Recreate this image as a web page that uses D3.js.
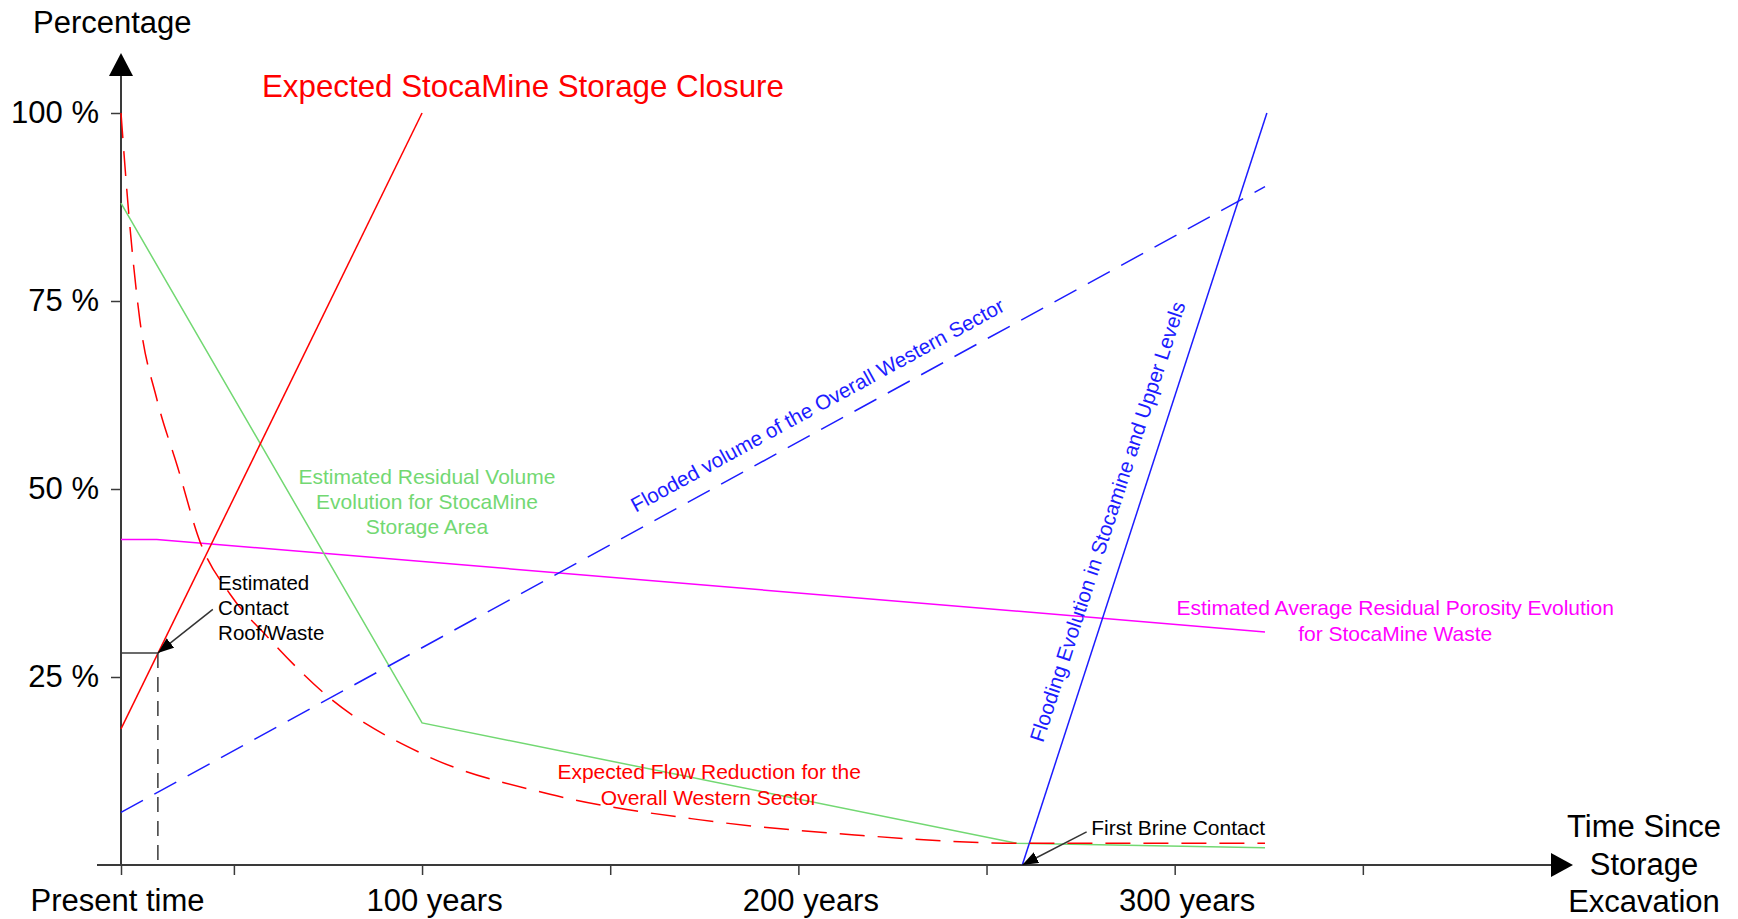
<!DOCTYPE html>
<html>
<head>
<meta charset="utf-8">
<script src="https://cdn.jsdelivr.net/npm/d3@7"></script>
<style>
  body { margin: 0; background: #fff; }
  svg { display: block; }
</style>
</head>
<body>
<svg id="chart" width="1738" height="919"></svg>
<script>
// x ticks: years since storage excavation
var yearTicks = [20, 50, 100, 150, 200, 250, 300, 350];
var yearLabels = ['Present time', '', '100 years', '', '200 years', '', '300 years', ''];

// y ticks
var pctTicks = [25, 50, 75, 100];
var pctLabels = ['25 %', '50 %', '75 %', '100 %'];

// Expected StocaMine storage closure (solid red)
var closureYears = [20, 100];
var closurePct = [18.1, 100];

// Expected flow reduction for the overall western sector (dashed red)
var flowYears = [20, 22, 25, 29.5, 35, 41, 49, 59, 75, 100, 134, 174, 215, 258, 324];
var flowPct = [100, 87, 72.5, 62, 53, 43, 36, 30.3, 22.4, 14.8, 9.4, 6, 4, 2.9, 2.9];

// Estimated residual volume evolution for StocaMine storage area (green)
var residualYears = [20, 100, 258, 324];
var residualPct = [88, 18.9, 2.9, 2.3];

// Estimated average residual porosity evolution (magenta)
var porosityYears = [20, 29.5, 324];
var porosityPct = [43.3, 43.3, 31];

// Flooded volume of the overall western sector (dashed blue)
var floodedYears = [20, 324];
var floodedPct = [7, 90.2];

// Flooding evolution in Stocamine and upper levels (solid blue)
var floodingYears = [259.5, 324.5];
var floodingPct = [0, 100];

// annotated points [years, %]
var contactPoint = [29.8, 28.2];
var brinePoint = [259.5, 0];

var FONT = "'Liberation Sans', Arial, Helvetica, sans-serif";
var RED = '#ff0000', GREEN = '#72d872', BLUE = '#1c1cff', MAGENTA = '#ff00ff', AXIS = '#3a3a3a';

var svg = d3.select('#chart').attr('font-family', FONT);

var x = d3.scaleLinear().domain([20, 400]).range([121, 1551]);
var y = d3.scaleLinear().domain([0, 100]).range([865, 113]);

var line = d3.line()
    .x(function(d) { return x(d[0]); })
    .y(function(d) { return y(d[1]); });

// arrow head marker for the annotations
svg.append('defs').append('marker')
    .attr('id', 'head')
    .attr('viewBox', '0 0 16 12')
    .attr('refX', 16)
    .attr('refY', 6)
    .attr('markerWidth', 16)
    .attr('markerHeight', 12)
    .attr('markerUnits', 'userSpaceOnUse')
    .attr('orient', 'auto')
  .append('path')
    .attr('d', 'M0,0L16,6L0,12z')
    .attr('fill', '#000');

// ---- axes ----
var xAxis = d3.axisBottom(x)
    .tickValues(yearTicks)
    .tickFormat(function(d, i) { return yearLabels[i]; })
    .tickSize(10)
    .tickPadding(14);

var yAxis = d3.axisLeft(y)
    .tickValues(pctTicks)
    .tickFormat(function(d, i) { return pctLabels[i]; })
    .tickSize(10)
    .tickPadding(12);

var gx = svg.append('g')
    .attr('transform', 'translate(0,' + y(0) + ')')
    .call(xAxis)
    .attr('font-family', FONT)
    .attr('font-size', 31);

var gy = svg.append('g')
    .attr('transform', 'translate(' + x(20) + ',0)')
    .call(yAxis)
    .attr('font-family', FONT)
    .attr('font-size', 31);

[gx, gy].forEach(function(g) {
    g.select('.domain').remove();
    g.selectAll('.tick line').attr('stroke', AXIS).attr('stroke-width', 1.5);
    g.selectAll('.tick text').attr('fill', '#000');
});
// year labels sit a little right of their ticks, "Present time" a little left
gx.selectAll('.tick text').attr('dx', function(d, i) { return i === 0 ? -4 : 12; });

// axis lines with arrow heads
var x0 = x(20), yBase = y(0), xEnd = x(400), yTop = y(100) - 37;
svg.append('line')
    .attr('x1', x0 - 24).attr('x2', xEnd)
    .attr('y1', yBase).attr('y2', yBase)
    .attr('stroke', AXIS).attr('stroke-width', 2);
svg.append('line')
    .attr('x1', x0).attr('x2', x0)
    .attr('y1', yBase).attr('y2', yTop)
    .attr('stroke', AXIS).attr('stroke-width', 2);
svg.append('path')
    .attr('d', 'M' + xEnd + ',' + (yBase - 12) + 'L' + (xEnd + 22) + ',' + yBase + 'L' + xEnd + ',' + (yBase + 12) + 'Z')
    .attr('fill', '#000');
svg.append('path')
    .attr('d', 'M' + (x0 - 12) + ',' + yTop + 'L' + x0 + ',' + (yTop - 23) + 'L' + (x0 + 12) + ',' + yTop + 'Z')
    .attr('fill', '#000');

// ---- series ----
function drawSeries(years, pct, color, dash, curve) {
    var gen = line.curve(curve || d3.curveLinear);
    return svg.append('path')
        .datum(d3.zip(years, pct))
        .attr('d', gen)
        .attr('fill', 'none')
        .attr('stroke', color)
        .attr('stroke-width', 1.5)
        .attr('stroke-dasharray', dash || null);
}

drawSeries(porosityYears, porosityPct, MAGENTA);
drawSeries(residualYears, residualPct, GREEN);
drawSeries(floodedYears, floodedPct, BLUE, '25,13');
drawSeries(floodingYears, floodingPct, BLUE);
drawSeries(closureYears, closurePct, RED);
drawSeries(flowYears, flowPct, RED, '25,13', d3.curveMonotoneX);

// contact roof/waste guides
svg.append('line')
    .attr('x1', x(20)).attr('x2', x(contactPoint[0]))
    .attr('y1', y(contactPoint[1])).attr('y2', y(contactPoint[1]))
    .attr('stroke', AXIS).attr('stroke-width', 1.5);
svg.append('line')
    .attr('x1', x(contactPoint[0])).attr('x2', x(contactPoint[0]))
    .attr('y1', y(contactPoint[1])).attr('y2', y(0))
    .attr('stroke', AXIS).attr('stroke-width', 1.5)
    .attr('stroke-dasharray', '15,9');

// annotation arrows (tail -> point)
function arrow(tail, head) {
    svg.append('line')
        .attr('x1', x(tail[0])).attr('y1', y(tail[1]))
        .attr('x2', x(head[0])).attr('y2', y(head[1]))
        .attr('stroke', '#333').attr('stroke-width', 1.5)
        .attr('marker-end', 'url(#head)');
}
arrow([44.4, 34.0], contactPoint);
arrow([276.6, 4.4], brinePoint);

// ---- text ----
function renderText(px, py, lines, opts) {
    opts = opts || {};
    var t = svg.append('text')
        .attr('x', px)
        .attr('y', py)
        .attr('font-size', opts.size || 21)
        .attr('fill', opts.color || '#000')
        .attr('text-anchor', opts.anchor || 'start');
    lines.forEach(function(s, i) {
        t.append('tspan')
            .attr('x', px)
            .attr('dy', i === 0 ? 0 : (opts.lineHeight || 25.3))
            .text(s);
    });
    return t;
}

renderText(33, 33, ['Percentage'], { size: 31 });
renderText(1644, 837, ['Time Since', 'Storage', 'Excavation'], { size: 31, anchor: 'middle', lineHeight: 37.5 });
renderText(262, 97, ['Expected StocaMine Storage Closure'], { size: 31.3, color: RED });

renderText(x(101.3), y(50.7), ['Estimated Residual Volume', 'Evolution for StocaMine', 'Storage Area'], { color: GREEN, anchor: 'middle' });
renderText(x(45.8), y(36.6), ['Estimated', 'Contact', 'Roof/Waste'], { size: 20.5, lineHeight: 25 });
renderText(x(176.3), y(11.4), ['Expected Flow Reduction for the', 'Overall Western Sector'], { color: RED, anchor: 'middle' });
renderText(x(358.6), y(33.2), ['Estimated Average Residual Porosity Evolution', 'for StocaMine Waste'], { color: MAGENTA, anchor: 'middle' });
renderText(x(277.8), y(4.0), ['First Brine Contact']);

// labels running along the blue lines
function slopedLabel(years, pct, at, txt, offset) {
    var p = d3.scaleLinear().domain(years).range(pct);
    var ang = Math.atan2(y(pct[1]) - y(pct[0]), x(years[1]) - x(years[0])) * 180 / Math.PI;
    svg.append('text')
        .attr('transform', 'translate(' + x(at) + ',' + y(p(at)) + ') rotate(' + ang + ')')
        .attr('dy', offset)
        .attr('text-anchor', 'middle')
        .attr('font-size', 20.6)
        .attr('fill', BLUE)
        .text(txt);
}
slopedLabel(floodedYears, floodedPct, 208, 'Flooded volume of the Overall Western Sector', -16);
slopedLabel(floodingYears, floodingPct, 288.5, 'Flooding Evolution in Stocamine and Upper Levels', -18);
</script>
</body>
</html>
